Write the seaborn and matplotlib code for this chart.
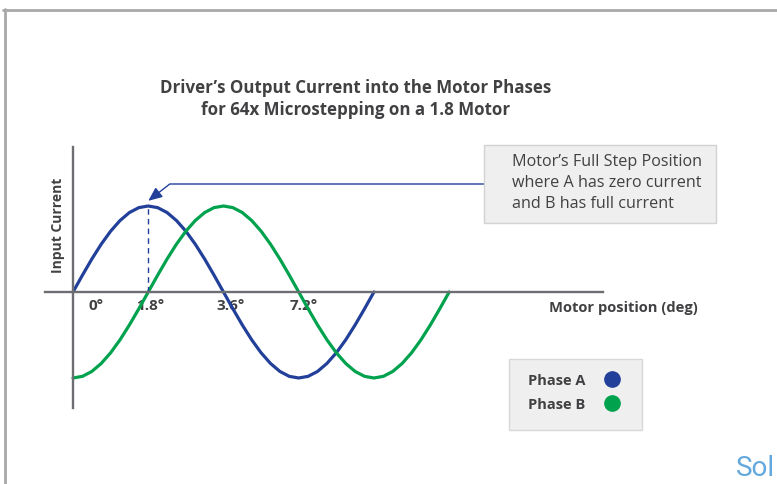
import numpy as np
import pandas as pd
import matplotlib
matplotlib.use("Agg")
import matplotlib.pyplot as plt
from matplotlib.patches import Rectangle
from matplotlib.lines import Line2D
import seaborn as sns

# ---- data ----
step_deg = 0.225  # sample spacing of motor position (deg)
phase_a = [0.0, 0.195, 0.383, 0.556, 0.707, 0.831, 0.924, 0.981, 1.0,
           0.981, 0.924, 0.831, 0.707, 0.556, 0.383, 0.195, 0.0,
           -0.195, -0.383, -0.556, -0.707, -0.831, -0.924, -0.981, -1.0,
           -0.981, -0.924, -0.831, -0.707, -0.556, -0.383, -0.195, 0.0]
phase_b = [-1.0, -0.981, -0.924, -0.831, -0.707, -0.556, -0.383, -0.195, 0.0,
           0.195, 0.383, 0.556, 0.707, 0.831, 0.924, 0.981, 1.0,
           0.981, 0.924, 0.831, 0.707, 0.556, 0.383, 0.195, 0.0,
           -0.195, -0.383, -0.556, -0.707, -0.831, -0.924, -0.981, -1.0,
           -0.981, -0.924, -0.831, -0.707, -0.556, -0.383, -0.195, 0.0]
phase_names = ["Phase A", "Phase B"]
tick_positions = [0.55, 1.84, 3.76, 5.53]
tick_labels = ["0\u00b0", "1.8\u00b0", "3.6\u00b0", "7.2\u00b0"]
full_step_deg = 1.8
full_step_current = 1.0

title = "Driver\u2019s Output Current into the Motor Phases\nfor 64x Microstepping on a 1.8 Motor"
note = "Motor\u2019s Full Step Position\nwhere A has zero current\nand B has full current"

BLUE = "#22409a"
GREEN = "#00a24e"
TXT = "#414042"
AX = "#6d6e71"

df = pd.concat([
    pd.DataFrame({"deg": np.arange(len(phase_a)) * step_deg, "current": phase_a, "phase": phase_names[0]}),
    pd.DataFrame({"deg": np.arange(len(phase_b)) * step_deg, "current": phase_b, "phase": phase_names[1]}),
], ignore_index=True)

sns.set_theme(style="white")
plt.rcParams["font.family"] = ["Open Sans", "DejaVu Sans"]

W, H = 777, 484
fig = plt.figure(figsize=(W / 100, H / 100), dpi=100)
fx = lambda x: x / W
fy = lambda y: 1 - y / H

ax = fig.add_axes([fx(45), fy(408), (603 - 45) / W, (408 - 147) / H])
ax.patch.set_alpha(0)
sns.lineplot(data=df, x="deg", y="current", hue="phase",
             palette={phase_names[0]: BLUE, phase_names[1]: GREEN},
             linewidth=2.3, legend=False, sort=False, ax=ax)
ax.set_xlim(-0.67, 12.68)
ax.set_ylim(-1.349, 1.686)
for s in ["top", "right"]:
    ax.spines[s].set_visible(False)
ax.spines["left"].set_position(("data", 0))
ax.spines["bottom"].set_position(("data", 0))
for s in ["left", "bottom"]:
    ax.spines[s].set_color(AX)
    ax.spines[s].set_linewidth(1.7)
ax.set_yticks([])
ax.set_xticks(tick_positions, tick_labels)
ax.tick_params(axis="x", length=0, pad=5, labelsize=11, labelcolor=TXT)
for t in ax.get_xticklabels():
    t.set_fontweight("bold")
ax.set_xlabel("")
ax.set_ylabel("")

# dashed drop line at full step
ax.plot([full_step_deg, full_step_deg], [0, full_step_current], color=BLUE,
        lw=1.0, ls=(0, (4, 3)))

# titles / labels
fig.text(fx(356), fy(99), title, ha="center", va="center", fontsize=12.2,
         fontweight="bold", color=TXT, linespacing=1.35)
fig.text(fx(58), fy(225), "Input Current", rotation=90, ha="center", va="center",
         fontsize=10, fontweight="bold", color=TXT)
fig.text(fx(623), fy(308), "Motor position (deg)", ha="center", va="center",
         fontsize=10.6, fontweight="bold", color=TXT)

# annotation box
fig.add_artist(Rectangle((fx(484), fy(223)), (716 - 484) / W, (223 - 145) / H,
                         transform=fig.transFigure, facecolor="#efefef",
                         edgecolor="#d2d2d2", lw=1.0))
fig.text(fx(512), fy(183), note, ha="left", va="center", fontsize=11.6,
         color=TXT, linespacing=1.38)
box_edge = ax.transData.inverted().transform(fig.transFigure.transform((fx(484), fy(184))))
ax.annotate("", xy=(full_step_deg, full_step_current + 0.06), xytext=tuple(box_edge),
            arrowprops=dict(arrowstyle="-|>,head_length=0.7,head_width=0.3",
                            mutation_scale=12, lw=1.0, color=BLUE,
                            connectionstyle="angle,angleA=0,angleB=38,rad=0",
                            shrinkA=0, shrinkB=0))

# legend box
fig.add_artist(Rectangle((fx(509), fy(430)), (642 - 509) / W, (430 - 359) / H,
                         transform=fig.transFigure, facecolor="#efefef",
                         edgecolor="#d8d8d8", lw=1.0))
for name, col, yy in [(phase_names[0], BLUE, 380), (phase_names[1], GREEN, 404)]:
    fig.text(fx(528), fy(yy + 1), name, ha="left", va="center", fontsize=10.5,
             fontweight="bold", color=TXT)
    fig.add_artist(Line2D([fx(612)], [fy(yy - 1)], marker="o", markersize=11,
                          color=col, transform=fig.transFigure))

# frame and brand text
fig.add_artist(Line2D([fx(3), fx(777)], [fy(9.5), fy(9.5)], color="#a8a8a8", lw=2.0,
                      transform=fig.transFigure))
fig.add_artist(Line2D([fx(5), fx(5)], [fy(8.5), fy(484)], color="#a8a8a8", lw=2.0,
                      transform=fig.transFigure))
fig.text(fx(775), fy(476), "Sol", ha="right", va="baseline", fontsize=20,
         color="#62a8dc", family=["Roboto", "DejaVu Sans"])

fig.savefig("out.png", dpi=100)
